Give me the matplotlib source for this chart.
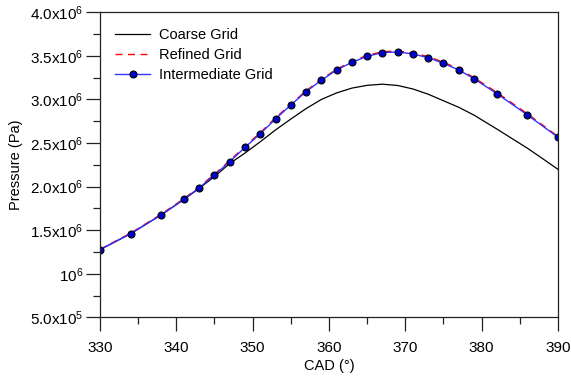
import numpy as np
import matplotlib
matplotlib.use("Agg")
import matplotlib.pyplot as plt
from matplotlib.ticker import FixedLocator, MultipleLocator

plt.rcParams['font.family'] = ['Liberation Sans', 'DejaVu Sans']
plt.rcParams['mathtext.fontset'] = 'custom'
plt.rcParams['mathtext.rm'] = 'Liberation Sans'
plt.rcParams['mathtext.it'] = 'Liberation Sans:italic'

# crank angle (deg) and pressure (Pa)
cad_coarse = [330, 334, 338, 341, 343, 345, 347, 349, 351, 353, 355, 357, 359,
              361, 363, 365, 367, 369, 371, 373, 375, 377, 379, 382, 384, 386,
              388, 390]
p_coarse = [1.276e6, 1.459e6, 1.674e6, 1.852e6, 1.980e6, 2.115e6, 2.265e6,
            2.385e6, 2.515e6, 2.650e6, 2.775e6, 2.895e6, 3.000e6, 3.075e6,
            3.130e6, 3.162e6, 3.175e6, 3.160e6, 3.120e6, 3.060e6, 2.985e6,
            2.910e6, 2.820e6, 2.660e6, 2.550e6, 2.440e6, 2.320e6, 2.198e6]

cad_refined = [330, 334, 338, 341, 343, 345, 347, 349, 351, 353, 355, 357, 359,
               361, 363, 365, 367, 369, 371, 373, 375, 377, 379, 382, 386, 390]
p_refined = [1.280e6, 1.465e6, 1.682e6, 1.862e6, 1.996e6, 2.143e6, 2.297e6,
             2.462e6, 2.619e6, 2.788e6, 2.947e6, 3.099e6, 3.230e6, 3.347e6,
             3.436e6, 3.505e6, 3.548e6, 3.556e6, 3.534e6, 3.491e6, 3.427e6,
             3.350e6, 3.250e6, 3.080e6, 2.835e6, 2.575e6]

cad_inter = [330, 334, 338, 341, 343, 345, 347, 349, 351, 353, 355, 357, 359,
             361, 363, 365, 367, 369, 371, 373, 375, 377, 379, 382, 386, 390]
p_inter = [1.276e6, 1.459e6, 1.674e6, 1.854e6, 1.987e6, 2.133e6, 2.286e6,
           2.450e6, 2.607e6, 2.776e6, 2.936e6, 3.089e6, 3.220e6, 3.338e6,
           3.426e6, 3.495e6, 3.537e6, 3.545e6, 3.522e6, 3.479e6, 3.415e6,
           3.338e6, 3.238e6, 3.066e6, 2.822e6, 2.566e6]

ytick_vals = [5e5, 1e6, 1.5e6, 2e6, 2.5e6, 3e6, 3.5e6, 4e6]
ytick_text = [r'5.0x10$^\mathregular{5}$', r'10$^\mathregular{6}$',
              r'1.5x10$^\mathregular{6}$', r'2.0x10$^\mathregular{6}$',
              r'2.5x10$^\mathregular{6}$', r'3.0x10$^\mathregular{6}$',
              r'3.5x10$^\mathregular{6}$', r'4.0x10$^\mathregular{6}$']

fig = plt.figure(figsize=(5.71, 3.76), dpi=100)
ax = fig.add_axes([0.1751, 0.1561, 0.8021, 0.8112])

ax.plot(cad_coarse, p_coarse, color='black', lw=0.9, label='Coarse Grid')
ax.plot(cad_refined, p_refined, color='red', lw=1.0, ls=(0, (5, 4)),
        label='Refined Grid')
ax.plot(cad_inter, p_inter, color='#3333ff', lw=1.0, marker='o', ms=5,
        mfc='#0000cc', mec='black', mew=0.8, label='Intermediate Grid')

ax.set_xlim(330, 390)
ax.set_ylim(5e5, 4e6)
ax.xaxis.set_major_locator(MultipleLocator(10))
ax.xaxis.set_minor_locator(MultipleLocator(5))
ax.yaxis.set_major_locator(FixedLocator(ytick_vals))
ax.yaxis.set_minor_locator(MultipleLocator(2.5e5))
ax.set_yticklabels(ytick_text)

ax.tick_params(which='both', direction='out', top=False, right=False,
               labelsize=11, width=0.9, color='#222222')
ax.tick_params(which='major', length=10)
ax.tick_params(which='minor', length=5)
ax.tick_params(axis='x', which='major', pad=7)
ax.tick_params(axis='y', which='major', pad=2)
for s in ax.spines.values():
    s.set_linewidth(0.9)
    s.set_color('#222222')

ax.set_xlabel('CAD (°)', fontsize=10.5, labelpad=3)
ax.set_ylabel('Pressure (Pa)', fontsize=10.5, labelpad=5)

ax.legend(loc='upper left', bbox_to_anchor=(0.005, 0.99), frameon=False,
          fontsize=10.5, handlelength=2.4, handletextpad=0.6,
          labelspacing=0.4, numpoints=1)

fig.savefig('out.png', dpi=100)
